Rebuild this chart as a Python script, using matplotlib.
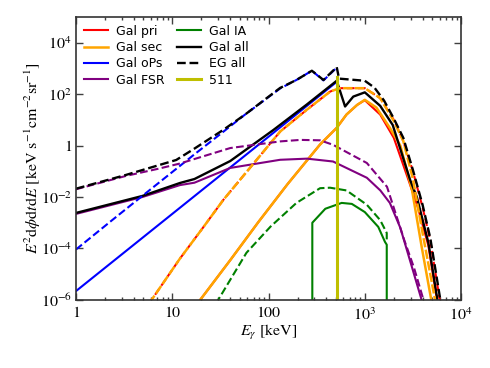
import numpy as np
import matplotlib
matplotlib.use('Agg')
from matplotlib import pyplot as plt
from matplotlib.ticker import FixedLocator, LogLocator, NullFormatter

plt.rcParams['font.family'] = 'serif'
plt.rcParams['font.serif'] = ['STIXGeneral', 'DejaVu Serif']
plt.rcParams['mathtext.fontset'] = 'stix'

# photon energy grids [keV] and E^2 dphi/dt/dE values
E_pri = [16, 19.5, 40, 79, 158, 343, 511, 645, 832, 1000, 1445, 2000, 2820, 3550, 4570, 5620]
gal_pri = [3e-7, 1e-6, 3.5e-5, 1.1e-3, 3.2e-2, 1.1, 4.9, 16, 38, 58, 16, 2.0, 0.05, 4e-3, 1.3e-4, 1e-6]

E_sec = [16, 19.5, 40, 79, 158, 343, 511, 645, 832, 1000, 1320, 1820, 2340, 3090, 3890, 4900, 5200]
gal_sec = [3e-7, 1e-6, 3.5e-5, 1.1e-3, 3.2e-2, 1.1, 4.9, 16, 38, 60, 30, 4.9, 1.0, 1.9e-2, 1.2e-4, 1e-6, 3e-7]

E_ops = [1, 10, 100, 511]
gal_ops = [2.2e-6, 2.2e-3, 2.2, 300]

E_fsr = [1, 4.9, 12, 17, 40, 132, 251, 468, 1050, 1450, 1820, 2340, 3020, 3890, 4200]
gal_fsr = [2.2e-3, 1e-2, 2.9e-2, 3.6e-2, 0.135, 0.28, 0.31, 0.24, 5.6e-2, 1.8e-2, 5.9e-3, 6.3e-4, 2.5e-5, 1e-6, 3e-7]

E_ia = [285, 285, 389, 575, 733, 1000, 1380, 1620, 1690, 1690]
gal_ia = [1e-9, 1e-3, 3.5e-3, 5.9e-3, 5.4e-3, 2.6e-3, 6.9e-4, 1.8e-4, 1.4e-4, 1e-9]

E_all = [1, 4.9, 12, 17, 40, 112, 251, 511, 624, 759, 1000, 1445, 1950, 2950, 3470, 4570, 5620, 5900]
gal_all = [2.4e-3, 1.1e-2, 3.5e-2, 5e-2, 0.25, 4.0, 40, 330, 33, 80, 117, 35, 6.3, 4.7e-2, 1e-2, 1.7e-4, 1.26e-6, 3e-7]

E_eg_pri = [5, 6.1, 12, 20, 34, 132, 251, 437, 550, 1000, 1445, 2000, 2510, 3160, 3980, 4790, 5900, 6300]
eg_pri = [3e-7, 1e-6, 4e-5, 5.2e-4, 7.8e-3, 3.5, 25, 126, 170, 170, 70, 10, 1.5, 0.1, 4e-3, 2e-4, 1.5e-6, 3e-7]

E_eg_sec = [5, 6.1, 12, 20, 34, 132, 251, 437, 550, 1000, 1445, 2000, 2510, 3160, 3980, 5370, 5600]
eg_sec = [3e-7, 1e-6, 4e-5, 5.2e-4, 7.8e-3, 3.5, 25, 126, 170, 170, 70, 9, 1.5, 5e-2, 4e-4, 1e-6, 3e-7]

E_eg_ops = [1, 2.4, 5.3, 16.8, 32, 57, 132, 195, 282, 372, 511]
eg_ops = [9.1e-5, 1.3e-3, 1.4e-2, 0.44, 2.9, 16, 166, 355, 810, 340, 1070]

E_eg_fsr = [1, 3.3, 7.2, 12, 17, 40, 132, 214, 343, 468, 1050, 1700, 2570, 3240, 4070, 4300]
eg_fsr = [2e-2, 6.6e-2, 0.126, 0.2, 0.3, 0.8, 1.45, 1.66, 1.6, 1.07, 0.21, 2.5e-2, 2.1e-4, 1.8e-5, 1e-6, 3e-7]

E_eg_ia = [25, 30, 59, 105, 195, 343, 436, 646, 1050, 1445, 1690, 1690]
eg_ia = [3e-7, 1e-6, 6.8e-5, 7.1e-4, 5.9e-3, 2.2e-2, 2.3e-2, 1.8e-2, 5e-3, 1.26e-3, 4e-4, 1.7e-4]

E_eg_all = [1, 3.3, 11, 16.8, 34, 57, 132, 195, 282, 372, 511, 540, 1000, 1260, 1585, 2000, 2510, 3160, 3980, 4790, 6030, 6310]
eg_all = [2.1e-2, 7.2e-2, 0.275, 0.74, 4.1, 16, 174, 355, 810, 355, 1120, 400, 330, 178, 56, 11.2, 2.0, 0.112,
          5e-3, 2.5e-4, 1.26e-6, 3.2e-7]

E_511 = [511, 511]
line_511 = [1e-9, 480]

fig = plt.figure(figsize=(4.9, 3.68), dpi=100)
ax = fig.add_axes([0.155, 0.185, 0.786, 0.769])

lw = 1.5
ax.plot(E_pri, gal_pri, color='r', lw=lw, label='Gal pri')
ax.plot(E_sec, gal_sec, color='orange', lw=lw + 0.3, label='Gal sec')
ax.plot(E_ops, gal_ops, color='b', lw=lw, label='Gal oPs')
ax.plot(E_fsr, gal_fsr, color='purple', lw=lw, label='Gal FSR')
ax.plot(E_ia, gal_ia, color='g', lw=lw, label='Gal IA')
ax.plot(E_all, gal_all, color='k', lw=lw + 0.2, label='Gal all')

ax.plot(E_eg_pri, eg_pri, color='r', lw=lw, ls='--')
ax.plot(E_eg_sec, eg_sec, color='orange', lw=lw + 0.3, ls='--', dashes=(3.7, 1.0))
ax.plot(E_eg_ops, eg_ops, color='b', lw=lw, ls='--')
ax.plot(E_eg_fsr, eg_fsr, color='purple', lw=lw, ls='--')
ax.plot(E_eg_ia, eg_ia, color='g', lw=lw, ls='--')
ax.plot(E_eg_all, eg_all, color='k', lw=lw + 0.2, ls='--', label='EG all')

ax.plot(E_511, line_511, color=(0.75, 0.75, 0), lw=2.2, label='511')

ax.set_xscale('log')
ax.set_yscale('log')
ax.set_xlim(1, 1e4)
ax.set_ylim(1e-6, 1e5)

ax.xaxis.set_major_locator(FixedLocator([1, 10, 100, 1e3, 1e4]))
ax.set_xticklabels(['1', '10', '100', r'$10^3$', r'$10^4$'])
ax.xaxis.set_minor_locator(LogLocator(base=10, subs=np.arange(2, 10)))
ax.xaxis.set_minor_formatter(NullFormatter())
ax.yaxis.set_major_locator(FixedLocator([1e-6, 1e-4, 1e-2, 1, 1e2, 1e4]))
ax.set_yticklabels([r'$10^{-6}$', r'$10^{-4}$', r'$10^{-2}$', '1', r'$10^2$', r'$10^4$'])
ax.yaxis.set_minor_locator(FixedLocator([]))

ax.tick_params(which='both', direction='in', top=True, right=True, labelsize=11.5, width=1.0, color='0.25')
ax.tick_params(which='major', length=5)
ax.tick_params(which='minor', length=2.5)
ax.tick_params(axis='x', pad=5)
ax.tick_params(axis='y', pad=3)
for s in ax.spines.values():
    s.set_linewidth(1.2)
    s.set_color('0.2')

ax.set_xlabel(r'$E_\gamma$ [keV]', fontsize=11.5, labelpad=0)
ax.set_ylabel(r'$E^2\mathrm{d}\phi\mathrm{d}t\mathrm{d}E$ [keV s$^{-1}$cm$^{-2}$sr$^{-1}$]', fontsize=11.5, labelpad=-2)

ax.legend(loc='upper left', bbox_to_anchor=(0.008, 0.99), borderaxespad=0, ncol=2, frameon=False,
          prop={'family': 'DejaVu Sans', 'size': 9}, handlelength=1.9, handletextpad=0.65,
          columnspacing=1.0, labelspacing=0.26)

fig.savefig('out.png', dpi=100)
